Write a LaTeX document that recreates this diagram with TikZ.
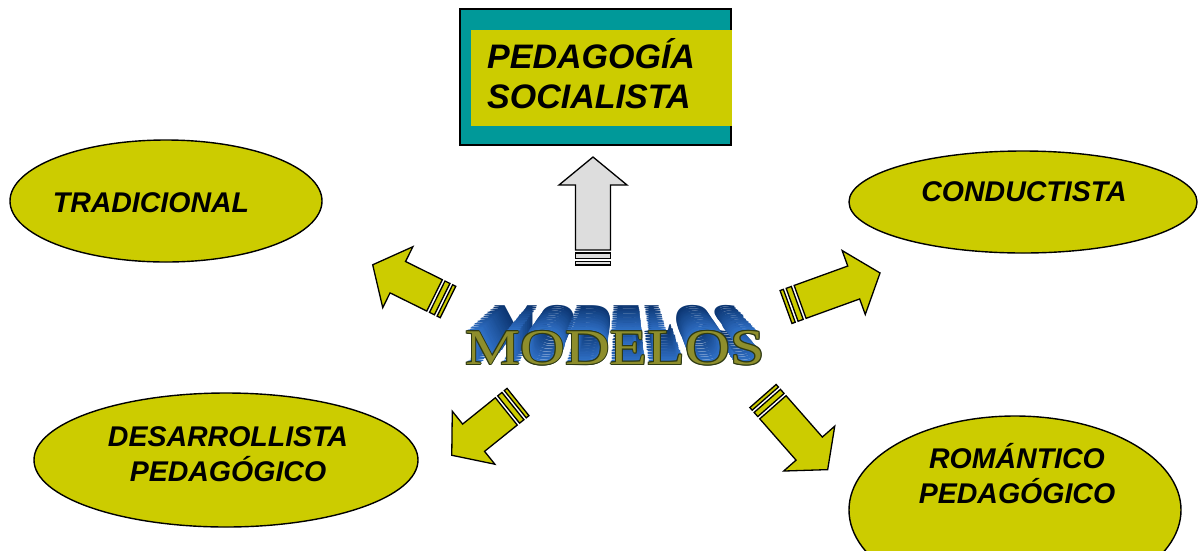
\documentclass[tikz,border=0pt]{standalone}
\usepackage{fontspec}
\setsansfont{Liberation Sans}
\newfontfamily\modfont{Liberation Serif}
\usepackage{xcolor}
\usepackage{tikz}
\usetikzlibrary{shapes.geometric}
\usetikzlibrary{positioning}
\usetikzlibrary{calc}
\definecolor{oliva}{HTML}{CCCC00}
\definecolor{verdeazul}{HTML}{009999}
\definecolor{grisfle}{HTML}{DDDDDD}
\definecolor{azulcla}{HTML}{3274CC}
\definecolor{azulosc}{HTML}{0C3672}
\definecolor{olivofte}{HTML}{8E8E2C}
\definecolor{olivosc}{HTML}{2E3A14}
\tikzset{%
  elipcol/.style={ellipse,draw=black,fill=oliva,line width=1.4pt,inner sep=0pt}
}
\tikzset{%
  etiq/.style={font=\sffamily\bfseries\itshape\fontsize{28.5}{35}\selectfont,align=center,anchor=base,inner sep=0pt}
}
\tikzset{%
  flechaline/.style={draw=black,line width=1.3pt,line join=miter}
}
\tikzset{%
  modletra/.style={font=\modfont\fontsize{50}{50}\selectfont,inner sep=0pt}
}
\newcommand{\flecha}[4]{%
  \begin{scope}[shift={#1},rotate=#2]
    \draw[flechaline,fill=#4] (0,-17.5) rectangle (3.5,17.5);
    \draw[flechaline,fill=#4] (6.5,-17.5) rectangle (12,17.5);
    \draw[flechaline,fill=#4] (15,-17.5) -- (#3-28,-17.5) -- (#3-28,-34) -- (#3,0)
      -- (#3-28,34) -- (#3-28,17.5) -- (15,17.5) -- cycle;
  \end{scope}}
\begin{document}
\begin{tikzpicture}[x=1pt,y=-1pt]
  \path[use as bounding box,clip] (0,0) rectangle (1199,550);

  % modelos (ellipses)
  \node[elipcol,minimum width=312pt,minimum height=122pt](trad) at (166,201){};
  \node[etiq](tradtxt) at (151,212){TRADICIONAL};
  \node[elipcol,minimum width=348pt,minimum height=102pt](cond) at (1023,202){};
  \node[etiq](condtxt) at (1024,201){CONDUCTISTA};
  \node[elipcol,minimum width=384pt,minimum height=134pt](desa) at (226,460){};
  \node[etiq](desatxt) at (228,481){DESARROLLISTA\\PEDAGÓGICO};
  \node[elipcol,minimum width=332pt,minimum height=188pt](roma) at (1015,510){};
  \node[etiq](romatxt) at (1017,503){ROMÁNTICO\\PEDAGÓGICO};

  % pedagogia socialista
  \draw[fill=verdeazul,line width=1.5pt] (460,9) rectangle (731,145);
  \fill[oliva] (471,30) rectangle (732,126);
  \node[etiq,anchor=base west,align=left,font=\sffamily\bfseries\itshape\fontsize{34}{40}\selectfont](soctxt) at (487,108){PEDAGOGÍA\\SOCIALISTA};

  % flechas
  \flecha{(593,265)}{90}{108}{grisfle}
  \flecha{(448,302)}{153.7}{84}{oliva}
  \flecha{(786,307)}{19.9}{100}{oliva}
  \flecha{(518,402)}{218.8}{85}{oliva}
  \flecha{(763,396)}{-48.7}{98}{oliva}

  % MODELOS en relieve
  \coordinate (fuga) at (625,190);
  \coordinate (modcen) at (615,348);
  \foreach \t in {20,...,1}{
    \pgfmathsetmacro\s{1-\t*0.009}
    \pgfmathtruncatemacro\p{\t*5}
    \node[modletra,text=azulosc!\p!azulcla,xscale=1.24*\s,yscale=\s] at ($(fuga)!\s!(modcen)$){MODELOS};
  }
  \foreach \dx/\dy in {-1/0,1/0,0/-1,0/1,-0.7/-0.7,0.7/0.7,-0.7/0.7,0.7/-0.7}
    \node[modletra,text=olivosc,xscale=1.24] at ($(modcen)+(\dx,\dy)$){MODELOS};
  \node[modletra,text=olivofte,xscale=1.24](modelos) at (modcen){MODELOS};
\end{tikzpicture}
\end{document}
